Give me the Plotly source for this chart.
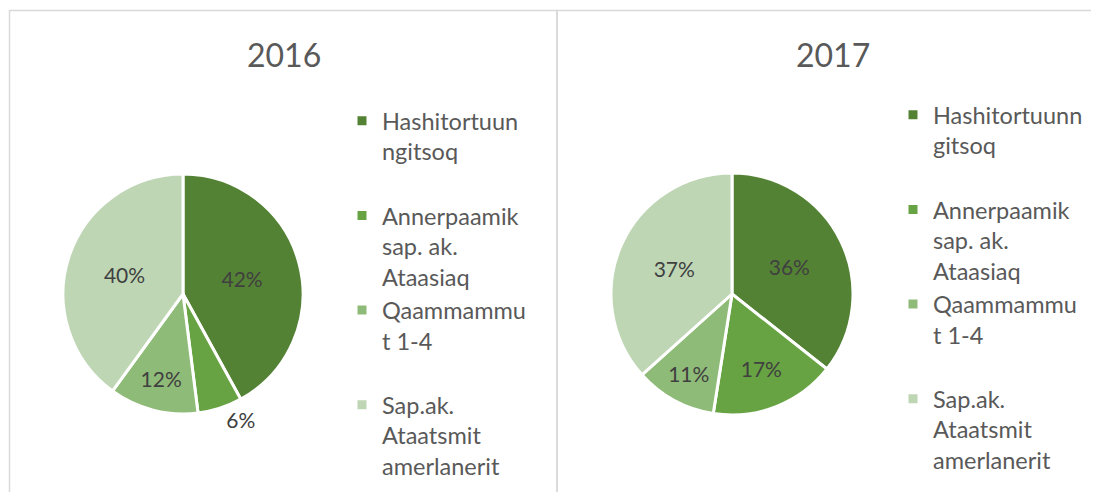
import plotly.graph_objects as go

years = ["2016", "2017"]
categories = [
    "Hashitortuunngitsoq",
    "Annerpaamik sap. ak. Ataasiaq",
    "Qaammammut 1-4",
    "Sap.ak. Ataatsmit amerlanerit",
]
# legend labels as wrapped in each chart (padded to three lines so the
# entries are evenly spaced; 2017 ones differ slightly so each pie keeps
# its own legend entries)
legend_2016 = [
    "Hashitortuun<br>ngitsoq<br>\u00a0",
    "Annerpaamik<br>sap. ak.<br>Ataasiaq",
    "Qaammammu<br>t 1-4<br>\u00a0",
    "Sap.ak.<br>Ataatsmit<br>amerlanerit",
]
legend_2017 = [
    "Hashitortuunn<br>gitsoq<br>\u00a0\u00a0",
    "Annerpaamik<br>sap. ak.<br>Ataasiaq\u00a0",
    "Qaammammu<br>t 1-4<br>\u00a0\u00a0",
    "Sap.ak.<br>Ataatsmit<br>amerlanerit\u00a0",
]
values_2016 = [42, 6, 12, 40]
values_2017 = [36, 17, 11, 37]
colors = ["#548235", "#67A343", "#8FBB78", "#BFD6B5"]

# page body has an 8px margin; keep the figure inside the 1099x500 window
OFF = 8
W, H = 1099 - 2 * OFF, 500 - 2 * OFF
FONT = "Lato, 'Open Sans', sans-serif"
TEXT = "#404040"
TITLE = "#595959"


def px(x):
    return (x - OFF) / W


def py(y):
    return 1 - (y - OFF) / H


fig = go.Figure()
fig.add_trace(go.Pie(
    labels=legend_2016, values=values_2016, sort=False, direction="clockwise",
    rotation=0, marker=dict(colors=colors, line=dict(color="white", width=3)),
    texttemplate="%{percent:.0%}", textinfo="percent",
    textposition=["inside", "outside", "inside", "inside"],
    insidetextorientation="horizontal",
    textfont=dict(family=FONT, size=21, color=TEXT),
    domain=dict(x=[px(63), px(303)], y=[py(414), py(174)]),
    legend="legend", hoverinfo="label+percent", name=years[0],
))
fig.add_trace(go.Pie(
    labels=legend_2017, values=values_2017, sort=False, direction="clockwise",
    rotation=0, marker=dict(colors=colors, line=dict(color="white", width=3)),
    texttemplate="%{percent:.0%}", textinfo="percent",
    textposition="inside",
    insidetextorientation="horizontal",
    textfont=dict(family=FONT, size=21, color=TEXT),
    domain=dict(x=[px(611), px(853)], y=[py(415), py(173)]),
    legend="legend2", hoverinfo="label+percent", name=years[1],
))

legend_common = dict(
    font=dict(family=FONT, size=23.5, color=TITLE),
    valign="top", bgcolor="rgba(0,0,0,0)", yanchor="top", xanchor="left",
    itemclick=False, itemdoubleclick=False,
)
fig.update_layout(
    width=W, height=H, margin=dict(l=0, r=0, t=0, b=0, autoexpand=False),
    paper_bgcolor="white", plot_bgcolor="white",
    font=dict(family=FONT, color=TEXT),
    uniformtext=dict(minsize=21, mode="show"),
    legend=dict(x=px(342), y=py(99), **legend_common),
    legend2=dict(x=px(893), y=py(93), **legend_common),
    shapes=[
        dict(type="rect", xref="paper", yref="paper",
             x0=px(9.5), x1=px(557), y0=-0.1, y1=py(10.5),
             line=dict(color="#D9D9D9", width=1.5)),
        dict(type="rect", xref="paper", yref="paper",
             x0=px(557), x1=1.1, y0=-0.1, y1=py(10.5),
             line=dict(color="#D9D9D9", width=1.5)),
    ],
    annotations=[
        dict(text=years[0], x=px(284), y=py(55), xref="paper", yref="paper",
             xanchor="center", yanchor="middle", showarrow=False,
             font=dict(family=FONT, size=32, color=TITLE)),
        dict(text=years[1], x=px(833), y=py(55), xref="paper", yref="paper",
             xanchor="center", yanchor="middle", showarrow=False,
             font=dict(family=FONT, size=32, color=TITLE)),
    ],
)

fig.write_html("out.html")
